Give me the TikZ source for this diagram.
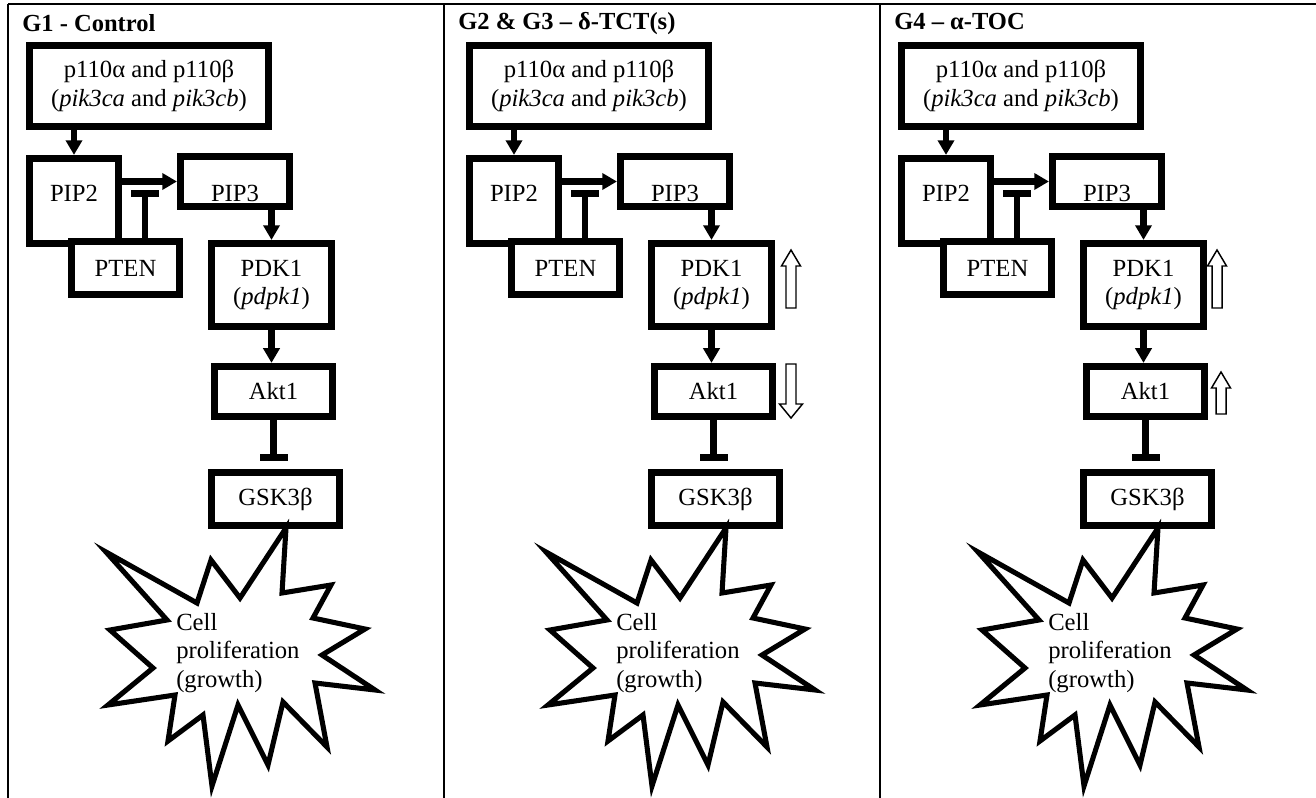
\documentclass[tikz,border=0pt]{standalone}
\usepackage{fontspec}
\setmainfont{Liberation Serif}
\usetikzlibrary{arrows.meta}
\tikzset{
	box/.style={
		rectangle,
		draw=black, line width=5pt,
		fill=white,
		inner sep=0pt,
		align=center,
		font=\fontsize{18.5}{21.5}\selectfont},
	arr/.style={draw, line width=5pt, -{Triangle[width=12pt,length=11pt]}},
	inh/.style={draw, line width=5pt, -{Bar[width=21pt]}},
	hollow/.style={draw, line width=1.1pt, fill=white},
	burst/.style={draw, line width=3.8pt, fill=white},
	frame/.style={line width=1.5pt},
	heading/.style={anchor=base west, inner sep=0pt,
		font=\fontsize{18.4}{22}\selectfont\bfseries},
	growth/.style={anchor=north west, inner sep=0pt, align=left,
		font=\fontsize{18.5}{21.4}\selectfont},
}

\begin{document}
\begin{tikzpicture}[x=0.75pt, y=-0.75pt]
	\useasboundingbox (0,0) rectangle (1316,798);
	% table frame
	\draw[frame] (8,4) -- (1316,4);
	\foreach \x in {8,444,880} \draw[frame] (\x,4) -- (\x,798);
	\node[heading] (headA) at (22,31.5) {G1 - Control};
	\node[heading] (headB) at (458,30) {G2 \& G3 – δ-TCT(s)};
	\node[heading] (headC) at (894,30) {G4 – α-TOC};

	\foreach \i/\dx in {1/0, 2/440, 3/872}{
	\begin{scope}[shift={(\dx,0)}]
		\node[box, minimum width=179.6pt, minimum height=61.1pt] (pik\i) at (149,86)
			{p110α and p110β\\(\textit{pik3ca} and \textit{pik3cb})};
		\node[box, minimum width=67.1pt, minimum height=64.1pt,
			text height=12.5pt, text depth=11pt] (pipA\i) at (74,201) {PIP2};
		\node[box, minimum width=82.1pt, minimum height=37.9pt,
			text height=30.7pt, text depth=0pt] (pipB\i) at (235,181.5) {PIP3};
		\node[box, minimum width=81.4pt, minimum height=40.1pt] (pten\i) at (125.5,268) {PTEN};
		\node[box, minimum width=90.4pt, minimum height=62.6pt] (pdk\i) at (271.5,285)
			{PDK1\\(\textit{pdpk1})};
		\node[box, minimum width=88.9pt, minimum height=37.9pt] (akt\i) at (273.5,391.5) {Akt1};
		\node[box, minimum width=96.4pt, minimum height=40.1pt] (gsk\i) at (275.5,499) {GSK3β};
		\coordinate (hit\i) at (145,190);

		\draw[arr] (pik\i.south -| pipA\i) -- (pipA\i);
		\draw[arr] (pipA\i.east |- pipB\i) -- (pipB\i.west);
		\draw[inh] (pten\i.north -| hit\i) -- (hit\i);
		\draw[arr] (pipB\i.south -| pdk\i) -- (pdk\i);
		\draw[arr] (pdk\i.south) -- (pdk\i.south |- akt\i.north);
		\draw[inh, shorten >=6pt] (akt\i.south) -- (akt\i.south |- gsk\i.north);

		% burst
		\draw[burst] (286,528) -- (282,593) -- (331,585) -- (313,618) -- (365,629)
			-- (322,655) -- (375,690) -- (315,683) -- (327,747) -- (283,702)
			-- (268,765) -- (238,705) -- (212,786) -- (203,715) -- (168,741)
			-- (175,695) -- (108,705) -- (153,668) -- (110,630) -- (167,620)
			-- (106,552) -- (197,603) -- (211,560) -- (240,598) -- cycle;
		\node[growth] (cell\i) at (176,613) {Cell\\proliferation\\(growth)};
	\end{scope}
	}

	% changes
	\draw[hollow] (791,250) -- ++(9.5,16) -- ++(-4.5,0) -- ++(0,42) -- ++(-10,0)
		-- ++(0,-42) -- ++(-4.5,0) -- cycle;
	\draw[hollow] (791,418) -- ++(11.5,-14) -- ++(-6.5,0) -- ++(0,-40) -- ++(-10,0)
		-- ++(0,40) -- ++(-6.5,0) -- cycle;
	\draw[hollow] (1217,250) -- ++(9.5,16) -- ++(-4.5,0) -- ++(0,42) -- ++(-10,0)
		-- ++(0,-42) -- ++(-4.5,0) -- cycle;
	\draw[hollow] (1221,372) -- ++(9.5,16) -- ++(-4.5,0) -- ++(0,26) -- ++(-10,0)
		-- ++(0,-26) -- ++(-4.5,0) -- cycle;
\end{tikzpicture}
\end{document}
